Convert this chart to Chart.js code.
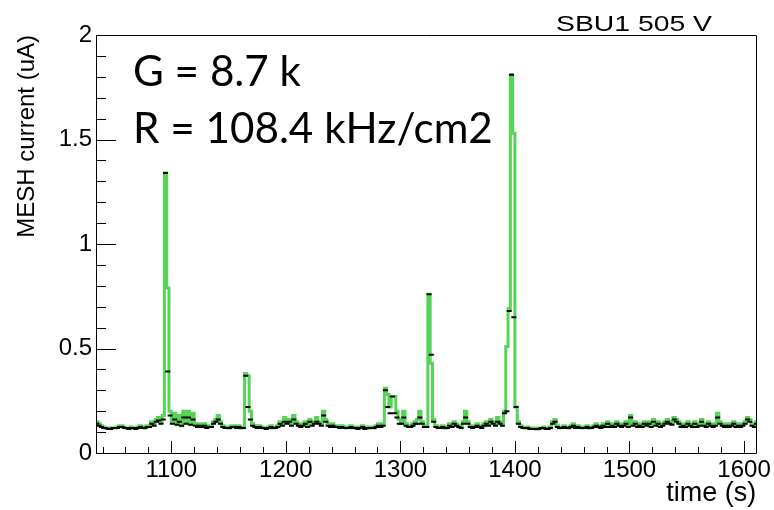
<!DOCTYPE html>
<html>
<head>
<meta charset="utf-8">
<script src="https://cdn.jsdelivr.net/npm/chart.js@4/dist/chart.umd.min.js"></script>
<style>
  html, body { margin: 0; padding: 0; background: #fff; }
  #wrap { width: 774px; height: 510px; position: relative; }
</style>
</head>
<body>
<div id="wrap"><canvas id="c" width="774" height="510"></canvas></div>
<script>
// ---- data ----
const binStart = 1034;      // s, left edge of first bin
const binWidth = 2;         // s
const greenValues = [
  0.15,0.14,0.13,0.125,0.12,0.12,0.12,0.12,0.12,0.125,
  0.13,0.13,0.125,0.12,0.12,0.125,0.12,0.12,0.125,0.13,
  0.125,0.12,0.13,0.13,0.15,0.14,0.16,0.17,0.15,0.18,
  1.34,0.79,0.2,0.15,0.19,0.14,0.18,0.13,0.2,0.15,
  0.2,0.14,0.19,0.14,0.13,0.14,0.13,0.14,0.125,0.13,
  0.13,0.15,0.16,0.18,0.15,0.13,0.125,0.125,0.12,0.13,
  0.13,0.125,0.13,0.12,0.125,0.38,0.37,0.2,0.14,0.13,
  0.125,0.13,0.125,0.12,0.12,0.125,0.13,0.12,0.125,0.13,
  0.15,0.14,0.17,0.15,0.16,0.14,0.18,0.15,0.14,0.13,
  0.14,0.15,0.13,0.16,0.14,0.15,0.17,0.15,0.14,0.2,
  0.16,0.14,0.13,0.14,0.13,0.13,0.125,0.13,0.125,0.12,
  0.125,0.13,0.12,0.125,0.12,0.125,0.13,0.12,0.125,0.12,
  0.125,0.12,0.13,0.14,0.13,0.14,0.31,0.28,0.22,0.27,
  0.27,0.2,0.16,0.15,0.2,0.14,0.13,0.13,0.14,0.15,
  0.16,0.2,0.15,0.13,0.13,0.76,0.43,0.16,0.13,0.125,
  0.125,0.13,0.12,0.125,0.14,0.13,0.15,0.14,0.13,0.125,
  0.15,0.2,0.15,0.13,0.125,0.13,0.14,0.13,0.125,0.14,
  0.15,0.14,0.16,0.15,0.14,0.17,0.15,0.14,0.2,0.51,
  0.69,1.81,1.53,0.22,0.15,0.13,0.125,0.12,0.125,0.12,
  0.12,0.12,0.115,0.12,0.12,0.125,0.12,0.12,0.125,0.15,
  0.16,0.13,0.12,0.125,0.13,0.125,0.12,0.13,0.14,0.125,
  0.13,0.125,0.12,0.125,0.13,0.12,0.125,0.13,0.14,0.13,
  0.125,0.14,0.13,0.15,0.13,0.14,0.13,0.15,0.14,0.13,
  0.14,0.15,0.13,0.18,0.14,0.15,0.13,0.14,0.13,0.15,
  0.14,0.15,0.13,0.16,0.14,0.15,0.13,0.14,0.15,0.16,
  0.15,0.14,0.17,0.16,0.15,0.13,0.14,0.13,0.15,0.14,
  0.13,0.15,0.13,0.14,0.16,0.14,0.13,0.15,0.14,0.13,
  0.14,0.19,0.15,0.14,0.13,0.14,0.13,0.14,0.15,0.13,
  0.14,0.13,0.14,0.15,0.17,0.16,0.14,0.13,0.15
];
const blackValues = [
  0.14,0.13,0.125,0.12,0.12,0.115,0.115,0.12,0.12,0.12,
  0.125,0.125,0.12,0.12,0.115,0.12,0.12,0.115,0.12,0.125,
  0.12,0.12,0.125,0.125,0.14,0.13,0.15,0.155,0.14,0.16,
  1.34,0.39,0.18,0.14,0.16,0.135,0.15,0.13,0.17,0.14,
  0.17,0.135,0.16,0.13,0.125,0.13,0.125,0.13,0.12,0.125,
  0.125,0.14,0.15,0.16,0.14,0.125,0.12,0.12,0.12,0.125,
  0.125,0.12,0.125,0.12,0.12,0.37,0.22,0.16,0.13,0.125,
  0.12,0.125,0.12,0.12,0.115,0.12,0.125,0.12,0.12,0.125,
  0.14,0.13,0.15,0.14,0.15,0.13,0.16,0.14,0.13,0.125,
  0.13,0.14,0.125,0.15,0.13,0.14,0.15,0.14,0.13,0.18,
  0.15,0.13,0.125,0.13,0.125,0.125,0.12,0.125,0.12,0.12,
  0.12,0.125,0.12,0.12,0.115,0.12,0.125,0.115,0.12,0.12,
  0.12,0.12,0.125,0.13,0.125,0.13,0.30,0.22,0.19,0.27,
  0.19,0.17,0.14,0.14,0.17,0.13,0.125,0.125,0.13,0.14,
  0.14,0.17,0.14,0.125,0.125,0.76,0.47,0.15,0.125,0.12,
  0.12,0.125,0.12,0.12,0.13,0.125,0.14,0.13,0.125,0.12,
  0.14,0.17,0.14,0.125,0.12,0.125,0.13,0.125,0.12,0.13,
  0.14,0.13,0.15,0.14,0.13,0.15,0.14,0.13,0.19,0.2,
  0.68,1.81,0.65,0.22,0.14,0.125,0.12,0.12,0.12,0.115,
  0.115,0.115,0.115,0.115,0.12,0.12,0.115,0.115,0.12,0.14,
  0.15,0.125,0.12,0.12,0.125,0.12,0.12,0.125,0.13,0.12,
  0.125,0.12,0.12,0.12,0.125,0.12,0.12,0.125,0.13,0.125,
  0.12,0.13,0.125,0.14,0.125,0.13,0.125,0.14,0.13,0.125,
  0.13,0.14,0.125,0.17,0.13,0.14,0.125,0.13,0.125,0.14,
  0.13,0.14,0.125,0.15,0.13,0.14,0.125,0.13,0.14,0.15,
  0.14,0.135,0.16,0.15,0.14,0.125,0.13,0.125,0.14,0.13,
  0.125,0.14,0.125,0.13,0.15,0.13,0.125,0.14,0.13,0.125,
  0.13,0.17,0.14,0.13,0.125,0.13,0.125,0.13,0.14,0.125,
  0.13,0.125,0.13,0.14,0.16,0.15,0.13,0.125,0.14
];
const xRange = [1034.3, 1610.7];
const yRange = [0, 2];
const xTickValues = [1100, 1200, 1300, 1400, 1500, 1600];
const xMinorStep = 20;
const yTickValues = [0, 0.5, 1, 1.5, 2];
const yMinorStep = 0.1;
const titleText = 'SBU1 505 V';
const xTitle = 'time (s)';
const yTitle = 'MESH current (uA)';
const noteLines = ['G = 8.7 k', 'R = 108.4 kHz/cm2'];

// ---- build datasets ----
const greenPts = greenValues.map((v, i) => ({ x: binStart + i * binWidth, y: v }));
greenPts.push({ x: binStart + greenValues.length * binWidth, y: greenValues[greenValues.length - 1] });
const blackPts = blackValues.map((v, i) => ({ x: binStart + (i + 0.5) * binWidth, y: v }));

const FONT = "'Liberation Sans', Arial, Helvetica, sans-serif";

const rootFrame = {
  id: 'rootFrame',
  afterDatasetsDraw(chart) {
    const { ctx, chartArea: a, scales: { x, y } } = chart;
    ctx.save();
    ctx.strokeStyle = '#000';
    ctx.lineWidth = 1;
    ctx.beginPath();
    ctx.rect(Math.round(a.left) + 0.5, Math.round(a.top) + 0.5,
             Math.round(a.right - a.left), Math.round(a.bottom - a.top));
    const xm0 = Math.ceil(xRange[0] / xMinorStep) * xMinorStep;
    for (let v = xm0; v <= xRange[1]; v += xMinorStep) {
      const px = Math.round(x.getPixelForValue(v)) + 0.5;
      const len = xTickValues.includes(v) ? 12 : 6;
      ctx.moveTo(px, a.bottom);
      ctx.lineTo(px, a.bottom - len);
    }
    for (let k = 0; k <= Math.round((yRange[1] - yRange[0]) / yMinorStep); k++) {
      const v = +(yRange[0] + k * yMinorStep).toFixed(3);
      const py = Math.round(y.getPixelForValue(v)) + 0.5;
      const len = yTickValues.includes(v) ? 20 : 10;
      ctx.moveTo(a.left, py);
      ctx.lineTo(a.left + len, py);
    }
    ctx.stroke();
    ctx.restore();
  },
  afterDraw(chart) {
    const { ctx } = chart;
    ctx.save();
    ctx.fillStyle = '#000';
    ctx.font = '22px ' + FONT;
    ctx.textAlign = 'left';
    ctx.textBaseline = 'alphabetic';
    const tw = ctx.measureText(titleText).width;
    ctx.save();
    ctx.translate(556, 31);
    ctx.scale(156 / tw, 1);
    ctx.fillText(titleText, 0, 0);
    ctx.restore();
    let size = 42;
    ctx.font = size + 'px Lato, sans-serif';
    const w = ctx.measureText(noteLines[1]).width;
    size = size * 360 / w;
    ctx.font = size.toFixed(1) + 'px Lato, sans-serif';
    ctx.fillText(noteLines[0], 133, 86);
    ctx.fillText(noteLines[1], 133, 143);
    ctx.restore();
  }
};

new Chart(document.getElementById('c'), {
  type: 'line',
  data: {
    datasets: [
      {
        label: 'green',
        data: greenPts,
        borderColor: 'rgb(85,212,85)',
        borderWidth: 3,
        stepped: 'before',
        pointRadius: 0,
        fill: false,
        order: 2
      },
      {
        label: 'black',
        type: 'scatter',
        data: blackPts,
        showLine: false,
        pointStyle: 'line',
        pointRadius: 2.5,
        pointBorderWidth: 2,
        pointBorderColor: '#000',
        pointBackgroundColor: '#000',
        order: 1
      }
    ]
  },
  options: {
    responsive: false,
    animation: false,
    events: [],
    layout: { padding: { left: 0, right: 14, top: 35, bottom: 0 } },
    plugins: { legend: { display: false }, tooltip: { enabled: false } },
    scales: {
      x: {
        type: 'linear',
        min: xRange[0], max: xRange[1],
        grid: { display: false, drawTicks: false },
        border: { display: false },
        afterBuildTicks: s => { s.ticks = xTickValues.map(v => ({ value: v })); },
        afterFit: s => { s.height = 57; },
        ticks: { color: '#000', font: { family: FONT, size: 24 }, padding: 3, maxRotation: 0, autoSkip: false,
                 callback: v => String(v) },
        title: { display: true, text: xTitle, align: 'end', color: '#000',
                 font: { family: FONT, size: 27 }, padding: { top: 0, bottom: 0 } }
      },
      y: {
        type: 'linear',
        min: yRange[0], max: yRange[1],
        grid: { display: false, drawTicks: false },
        border: { display: false },
        afterBuildTicks: s => { s.ticks = yTickValues.map(v => ({ value: v })); },
        afterFit: s => { s.width = 96; },
        ticks: { color: '#000', font: { family: FONT, size: 24 }, padding: 4, callback: v => String(v) },
        title: { display: true, text: yTitle, align: 'end', color: '#000',
                 font: { family: FONT, size: 24 }, padding: { top: 13, bottom: 0 } }
      }
    }
  },
  plugins: [rootFrame]
});
</script>
</body>
</html>
